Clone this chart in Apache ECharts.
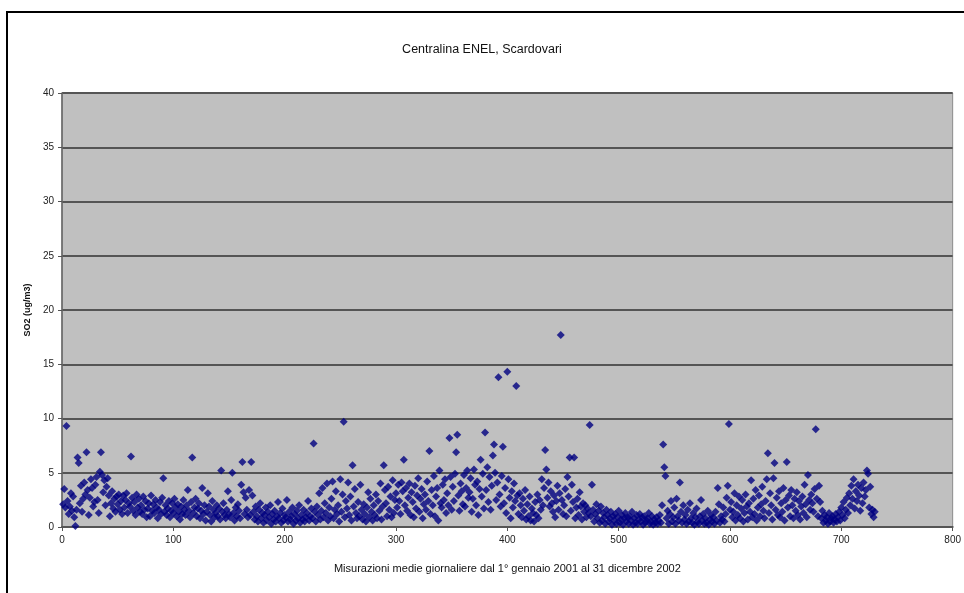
<!DOCTYPE html>
<html>
<head>
<meta charset="utf-8">
<script src="https://cdn.jsdelivr.net/npm/echarts@6/dist/echarts.min.js"></script>
<style>
html,body{margin:0;padding:0;width:964px;height:593px;overflow:hidden;background:#fff;}
#frame{position:absolute;left:6px;top:11px;width:1100px;height:800px;border:2px solid #000;box-sizing:border-box;}
#chart{position:absolute;left:0;top:0;width:964px;height:593px;}
</style>
</head>
<body>
<div id="frame"></div>
<div id="chart"></div>
<script>
const chartTitle = "Centralina ENEL, Scardovari";
const xAxisTitle = "Misurazioni medie giornaliere dal 1° gennaio 2001 al 31 dicembre 2002";
const yAxisTitle = "SO2 (ug/m3)";

// daily mean SO2, days 1-365 (2001)
const so2_2001 = [
2.1,3.5,1.8,9.3,2.4,1.2,1.9,3.1,1.5,2.8,
0.9,0.1,1.6,6.4,5.9,2.2,3.8,1.4,2.6,4.1,
3.0,6.9,3.4,1.1,2.7,4.4,3.6,1.9,2.3,3.9,
4.6,2.5,1.3,5.1,6.9,4.8,3.2,4.3,2.0,3.7,
4.5,2.9,1.0,2.2,3.3,1.7,2.6,1.4,2.8,2.1,
3.0,1.6,2.4,1.2,2.9,1.8,2.5,3.1,1.3,2.2,
1.9,6.5,2.7,1.5,2.3,1.1,3.0,1.8,2.6,1.4,
2.0,1.2,2.8,1.6,2.4,0.9,1.7,2.2,1.0,2.9,
1.5,2.1,1.3,2.5,1.8,0.8,1.6,2.3,1.2,2.7,
4.5,1.4,2.0,1.1,1.7,2.4,0.9,1.5,2.2,1.3,
2.6,1.8,1.0,2.1,1.4,0.7,1.9,1.2,2.5,1.6,
1.1,2.0,3.4,1.5,0.9,2.3,6.4,1.3,1.8,2.6,
1.0,1.7,2.2,0.8,1.5,3.6,1.2,2.0,0.6,1.4,
3.1,1.9,1.1,0.5,2.4,1.6,0.9,1.3,2.0,1.0,
1.7,0.7,5.2,1.4,2.2,1.1,0.8,1.6,3.3,1.2,
0.9,2.5,5.0,1.3,0.6,1.8,1.0,2.1,1.5,0.8,
3.9,6.0,3.2,1.2,2.7,1.6,0.9,3.4,1.1,6.0,
2.9,1.4,0.7,1.9,1.0,0.5,1.6,2.2,0.8,1.3,
0.4,1.1,1.8,0.6,1.4,0.9,2.0,0.3,1.2,0.7,
1.5,0.5,1.0,2.3,0.8,1.3,0.4,1.7,0.6,1.1,
0.9,2.5,0.5,1.4,0.7,1.0,1.8,0.3,1.2,0.6,
1.5,0.8,2.0,0.4,1.1,0.7,1.6,0.5,0.9,1.3,
2.4,0.6,1.0,1.7,0.8,7.7,1.4,0.5,1.9,1.1,
3.1,0.7,1.5,3.6,0.9,2.2,1.3,4.0,0.6,1.8,
1.0,2.6,4.2,0.8,1.6,3.3,1.2,2.0,0.5,4.4,
1.4,3.0,9.7,0.9,2.4,1.7,4.1,1.1,2.8,0.6,
5.7,1.9,3.5,1.3,0.8,2.3,1.0,3.9,1.6,0.7,
2.1,1.2,0.5,1.8,3.2,0.9,2.6,1.4,0.6,2.0,
1.1,3.0,0.8,2.4,1.5,4.0,0.7,1.9,5.7,3.4,
2.2,1.0,3.7,1.6,2.8,0.9,4.3,1.3,2.5,3.1,
1.8,3.9,2.4,1.2,4.1,3.3,6.2,2.0,3.6,1.5,
2.7,4.0,1.1,3.2,2.3,0.9,3.8,1.7,2.9,4.5,
1.4,2.6,3.5,0.8,2.1,3.0,1.6,4.2,2.4,7.0,
1.2,3.4,2.0,4.7,1.0,2.8,3.6,0.6,5.2,2.2,
1.8,3.9,2.5,4.4,1.3,3.1,2.0,8.2,4.6,1.6,
3.7,2.4,4.9,6.9,8.5,2.9,1.5,4.0,3.3,2.1,
4.8,1.9,3.6,5.2,2.7
];

// daily mean SO2, days 366-730 (2002)
const so2_2002 = [
3.2,4.5,1.4,2.6,5.3,3.9,2.0,4.2,1.1,3.5,
6.2,2.8,4.9,1.7,8.7,3.4,5.5,2.3,4.6,1.6,
3.8,6.6,7.6,5.0,2.5,4.1,13.8,3.0,1.9,4.7,
7.4,2.2,3.6,1.3,14.3,4.4,2.7,0.8,3.3,1.8,
4.0,2.4,13.0,2.9,1.2,3.1,2.0,0.9,2.6,1.5,
3.4,0.7,2.1,1.0,2.8,0.6,1.7,1.3,0.5,2.3,
1.1,3.0,0.8,2.5,1.6,4.4,2.0,3.6,7.1,5.3,
2.7,4.1,1.9,3.3,2.2,1.4,2.9,0.9,2.4,3.8,
1.6,3.1,17.7,2.5,1.2,2.0,3.5,1.0,4.6,2.8,
6.4,1.5,3.9,2.3,6.4,0.8,1.8,2.6,1.1,3.2,
1.9,0.7,2.2,1.4,2.0,0.9,1.7,1.3,9.4,1.0,
3.9,1.6,0.5,1.2,2.1,0.8,1.5,0.4,1.9,0.6,
1.3,0.9,0.3,1.6,1.1,0.5,0.8,1.4,0.2,1.0,
0.6,1.2,0.3,0.9,1.5,0.4,0.7,1.1,0.2,0.8,
1.3,0.5,0.9,0.3,1.0,0.6,1.4,0.2,0.8,0.4,
1.1,0.3,0.7,1.2,0.5,0.9,0.2,1.0,0.4,0.6,
0.8,1.3,0.3,0.5,1.0,0.2,0.7,0.4,0.9,0.3,
0.6,1.1,0.4,2.0,7.6,5.5,4.7,0.8,1.5,0.3,
1.2,2.4,0.5,0.9,1.8,0.3,2.6,1.0,0.6,4.1,
1.4,0.4,2.0,0.7,1.1,0.3,1.6,0.5,2.2,0.8,
0.4,1.3,0.2,0.9,1.7,0.5,0.3,1.0,2.5,0.6,
1.2,0.3,0.8,0.4,1.5,0.2,0.7,1.1,0.5,0.9,
0.3,1.4,0.6,3.6,2.1,0.4,1.0,0.7,1.8,0.5,
1.2,2.7,3.8,9.5,1.6,2.3,0.9,1.4,3.1,0.6,
2.0,1.1,2.8,0.8,1.7,2.5,0.5,1.3,3.0,1.9,
0.7,2.2,1.4,4.3,0.9,2.6,1.2,3.4,0.6,1.8,
2.9,1.0,2.1,3.7,1.5,0.8,2.4,4.4,6.8,1.3,
3.1,2.0,0.7,4.5,5.9,1.6,2.7,1.1,3.3,0.9,
2.2,1.4,3.6,0.6,2.5,6.0,1.8,2.9,1.0,3.4,
2.0,0.8,2.6,1.5,3.2,1.1,2.4,0.7,1.9,2.8,
1.3,3.9,2.1,0.9,4.8,2.5,1.6,3.0,2.2,1.4,
3.5,9.0,2.6,1.0,3.8,2.3,0.8,1.5,0.4,1.1,
0.6,0.9,0.3,1.3,0.5,0.8,1.0,0.4,0.7,1.2,
0.5,0.9,1.4,0.6,1.8,1.1,2.3,0.8,1.6,2.7,
1.3,3.1,2.0,3.8,2.6,4.4,1.7,3.3,2.4,3.9,
2.9,1.5,3.6,2.2,4.1,2.8,3.4,5.2,4.9,1.8,
3.7,1.2,1.6,0.9,1.4
];

const xTicks = [0,100,200,300,400,500,600,700,800];
const yTicks = [0,5,10,15,20,25,30,35,40];

const allValues = so2_2001.concat(so2_2002);
const points = allValues.map((v, i) => [i + 1, v]);

const chart = echarts.init(document.getElementById('chart'), null, {renderer: 'canvas'});
const axisFont = {fontFamily: 'Liberation Sans, Arial, sans-serif', fontSize: 10, color: '#222'};
chart.setOption({
  animation: false,
  backgroundColor: 'transparent',
  title: {
    text: chartTitle,
    left: 'center',
    top: 38,
    textStyle: {fontFamily: 'Liberation Sans, Arial, sans-serif', fontSize: 12.5, fontWeight: 'normal', color: '#111'}
  },
  grid: {
    left: 62, top: 93, right: 5, bottom: 66,
    show: true, backgroundColor: '#c0c0c0', borderColor: '#8a8a8a', borderWidth: 1
  },
  xAxis: {
    type: 'value',
    min: xTicks[0], max: xTicks[xTicks.length - 1], interval: 100,
    name: xAxisTitle,
    nameLocation: 'middle',
    nameGap: 36,
    nameTextStyle: {fontFamily: 'Liberation Sans, Arial, sans-serif', fontSize: 11, color: '#111'},
    axisLine: {show: true, lineStyle: {color: '#555', width: 2}},
    axisTick: {show: true, length: 4, lineStyle: {color: '#555'}},
    axisLabel: Object.assign({margin: 8, showMaxLabel: true}, axisFont),
    splitLine: {show: false}
  },
  yAxis: {
    type: 'value',
    min: yTicks[0], max: yTicks[yTicks.length - 1], interval: 5,
    name: yAxisTitle,
    nameLocation: 'middle',
    nameGap: 28,
    nameRotate: 90,
    nameTextStyle: {fontFamily: 'Liberation Sans, Arial, sans-serif', fontSize: 9, fontWeight: 'bold', color: '#111'},
    axisLine: {show: true, lineStyle: {color: '#666', width: 1.5}},
    axisTick: {show: true, length: 4, lineStyle: {color: '#555'}},
    axisLabel: Object.assign({margin: 8}, axisFont),
    splitLine: {show: true, lineStyle: {color: '#555', width: 2}}
  },
  series: [{
    type: 'scatter',
    data: points,
    symbol: 'diamond',
    symbolSize: 8,
    itemStyle: {color: '#000080'}
  }]
});
</script>
</body>
</html>
